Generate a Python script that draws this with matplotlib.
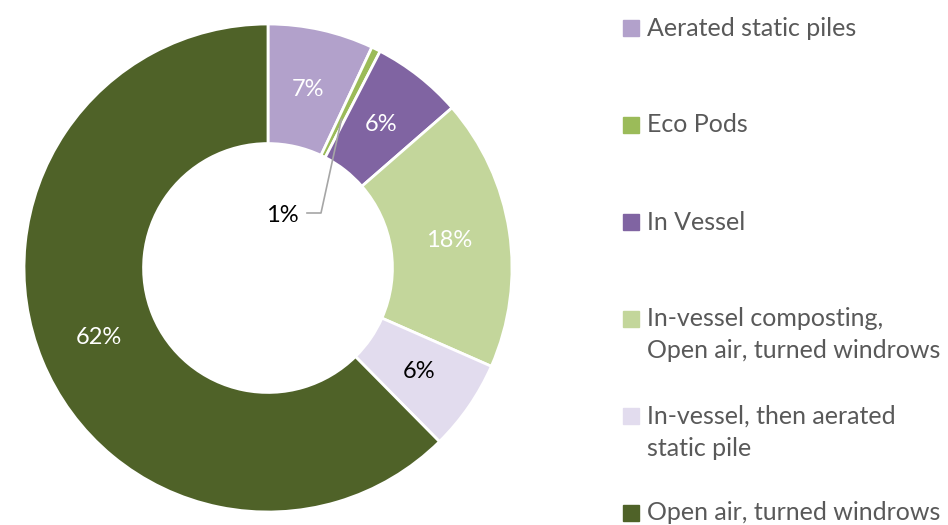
import matplotlib.pyplot as plt
from matplotlib.patches import Rectangle
import numpy as np

plt.rcParams['font.family'] = ['Lato', 'DejaVu Sans']

categories = ['Aerated static piles', 'Eco Pods', 'In Vessel',
              'In-vessel composting,\nOpen air, turned windrows',
              'In-vessel, then aerated\nstatic pile',
              'Open air, turned windrows']
shares = [7.0, 0.6, 6.0, 18.0, 6.0, 62.4]
colors = ['#b2a1cb', '#9bbb59', '#8064a2', '#c3d69b', '#e2dcee', '#4f6228']
label_colors = ['white', 'black', 'white', 'white', 'black', 'white']

fig = plt.figure(figsize=(9.48, 5.25), dpi=100)
W, H = 948, 525
cx, cy, R = 268, 268, 244
ax = fig.add_axes([(cx - R) / W, (H - cy - R) / H, 2 * R / W, 2 * R / H])

wedges, _ = ax.pie(shares, colors=colors, startangle=90, counterclock=False,
                   radius=1.0, wedgeprops=dict(width=0.49, edgecolor='white', linewidth=2))
ax.set_xlim(-1, 1)
ax.set_ylim(-1, 1)
ax.set_aspect('equal')
ax.axis('off')

# percentage labels in the ring
total = sum(shares)
start = 90.0
for i, v in enumerate(shares):
    ang = start - v / total * 360 / 2
    start -= v / total * 360
    txt = f"{v:.0f}%"
    a = np.deg2rad(ang)
    if i == 1:
        # small slice: label inside the hole with leader line
        tip = (0.68 * np.cos(a), 0.68 * np.sin(a))
        ax.plot([(307 - cx) / R, (321 - cx) / R, tip[0]],
                [(cy - 213) / R, (cy - 213) / R, tip[1]],
                color='#a6a6a6', lw=1.2)
        ax.text((299 - cx) / R, (cy - 215) / R, txt, ha='right', va='center',
                fontsize=17, color='black')
        continue
    ax.text(0.75 * np.cos(a), 0.75 * np.sin(a), txt, ha='center', va='center',
            fontsize=17, color=label_colors[i])

# legend
for i, (lab, c) in enumerate(zip(categories, colors)):
    yc = 28 + 97 * i
    fig.patches.append(Rectangle((623 / W, 1 - (yc + 8) / H), 16 / W, 16 / H,
                                 transform=fig.transFigure, color=c))
    for j, line in enumerate(lab.split('\n')):
        fig.text(647 / W, 1 - (yc + 32 * j) / H, line, ha='left', va='center',
                 fontsize=18, color='#595959')

fig.savefig('out.png', dpi=100)
